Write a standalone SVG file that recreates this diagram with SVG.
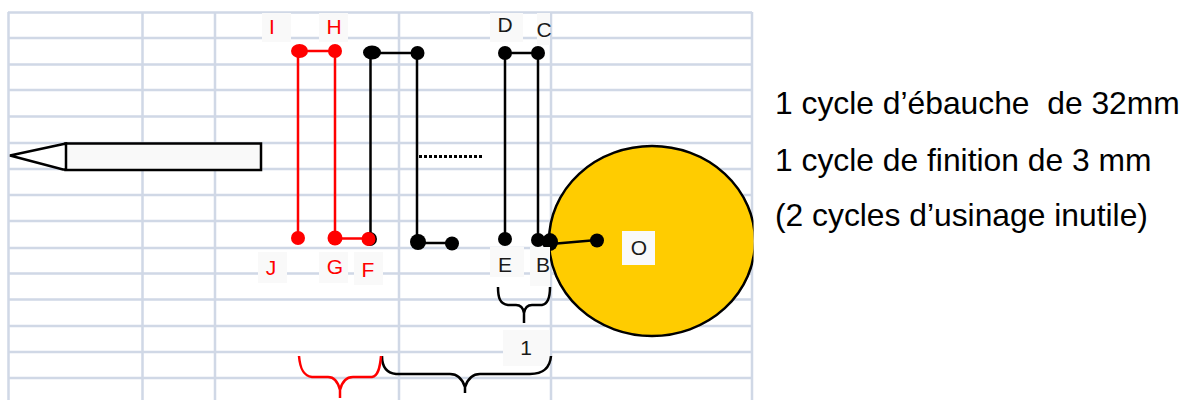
<svg xmlns="http://www.w3.org/2000/svg" width="1195" height="400" viewBox="0 0 1195 400">
<style>
.g{stroke:#d0d8e6;stroke-width:2.500;fill:none}
.k{stroke:#000;stroke-width:2.500;fill:none}
.r{stroke:#f00;stroke-width:2.500;fill:none}
.kd{fill:#000}.rd{fill:#f00}
.bg{fill:#f9f9f9}
text{font-family:"Liberation Sans",Arial,sans-serif}
.l{font-size:21px;text-anchor:middle;fill:#1a1a1a}
.lr{font-size:21px;text-anchor:middle;fill:#f00}
.t{font-size:31.800px;fill:#000;white-space:pre}
</style>
<defs><clipPath id="c"><rect x="0" y="0" width="753.500" height="400"/></clipPath></defs>
<rect width="1195" height="400" fill="#fff"/>
<g id="grid" class="g">
<path d="M8 12.500H752M8 38H752M8 64.500H752M8 90H752M8 116.500H752M8 143H752M8 169H752M8 195H752M8 221H752M8 248H752M8 273.500H752M8 299.500H752M8 326H752M8 352H752M8 378H752"/>
<path d="M8.500 12V400M142.500 12V400M215 12V400M399 12V400M551 12V400M752 12V400"/>
</g>
<g id="tool">
<rect x="65.500" y="143.500" width="195.500" height="26.500" fill="#f9f9f9" stroke="#000" stroke-width="2.500"/>
<path d="M66 143.500L10 155.500L63 169.500L66 169.500Z" fill="#fff" stroke="#000" stroke-width="2.500"/>
</g>
<g id="workpiece">
<ellipse cx="652" cy="241" rx="103" ry="95" fill="#fc0" stroke="#000" stroke-width="2.500" clip-path="url(#c)"/>
</g>
<g id="connectors">
<path class="r" d="M298 51V238M335 51V238M299 51H335M335 238.500H369"/>
<path class="k" d="M370.500 53V238M372 53H418M417 53V242M418 243H452M505 53V240M538 53V240M505 53H538M551 244L597 240"/>
<path d="M419 156.500H482" fill="none" stroke="#000" stroke-width="3" stroke-dasharray="3 2"/>
</g>
<g id="points">
<ellipse class="rd" cx="299.500" cy="51" rx="8.500" ry="7"/>
<circle class="rd" cx="335" cy="51" r="7"/>
<ellipse class="kd" cx="372" cy="52.500" rx="9" ry="7"/>
<circle class="kd" cx="417.500" cy="53" r="7"/>
<circle class="kd" cx="505" cy="53" r="7"/>
<circle class="kd" cx="538" cy="53" r="7"/>
<circle class="rd" cx="298" cy="238" r="7"/>
<circle class="kd" cx="370" cy="239" r="7"/>
<circle class="rd" cx="335" cy="238" r="7.500"/>
<circle class="rd" cx="368.500" cy="239" r="7"/>
<circle class="kd" cx="418" cy="242" r="8"/>
<circle class="kd" cx="452" cy="243.500" r="7"/>
<circle class="kd" cx="505" cy="239" r="7"/>
<circle class="kd" cx="538" cy="240" r="7"/>
<ellipse class="kd" cx="550" cy="242" rx="8" ry="9"/>
<circle class="kd" cx="597" cy="240.500" r="7"/>
</g>
<g id="label-I"><rect class="bg" x="262" y="13" width="29" height="29"/><text class="lr" x="272" y="34">I</text></g>
<g id="label-H"><rect class="bg" x="319" y="13" width="29" height="29"/><text class="lr" x="334" y="34">H</text></g>
<g id="label-D"><rect class="bg" x="490" y="13" width="33" height="29"/><text class="l" x="505" y="32">D</text></g>
<g id="label-C"><rect class="bg" x="537" y="13" width="13" height="32"/><text class="l" x="544" y="37">C</text></g>
<g id="label-J"><rect class="bg" x="258" y="252" width="29" height="31"/><text class="lr" x="271" y="275">J</text></g>
<g id="label-G"><rect class="bg" x="319" y="252" width="29" height="31"/><text class="lr" x="335" y="274">G</text></g>
<g id="label-F"><rect class="bg" x="354" y="252" width="29" height="33"/><text class="lr" x="368" y="277">F</text></g>
<g id="label-E"><rect class="bg" x="490" y="247" width="34" height="30"/><text class="l" x="505" y="272">E</text></g>
<g id="label-B"><rect class="bg" x="530" y="247" width="20" height="39"/><text class="l" x="543" y="272">B</text></g>
<g id="label-O"><rect x="622" y="231" width="33" height="34" fill="#f9f9f9"/><text class="l" x="639" y="255">O</text></g>
<g id="label-1"><rect class="bg" x="503" y="330" width="47" height="36"/><text class="l" x="526" y="355">1</text></g>
<g id="braces">
<path class="k" d="M498 287C498 298 500 304 508 305H516C520 305 523 307 524 313C525 307 528 305 532 305H542C548 304 550 298 550 287M524 310V323"/>
<path class="k" d="M382 356C382 368 387 373 396 374H450C457 374 462 378 465 387C468 378 473 374 480 374H530C543 374 550 368 551 356M465 384V393"/>
<path class="r" d="M299 356C300 368 303 376 312 377H328C335 377 338 382 340 390C342 382 346 377 353 377H372C378 376 380 368 381 356M340 386V398"/>
</g>
<g id="notes">
<text class="t" x="775" y="114">1 cycle d’ébauche  de 32mm</text>
<text class="t" x="775" y="170.500">1 cycle de finition de 3 mm</text>
<text class="t" x="775" y="226">(2 cycles d’usinage inutile)</text>
</g>
</svg>
